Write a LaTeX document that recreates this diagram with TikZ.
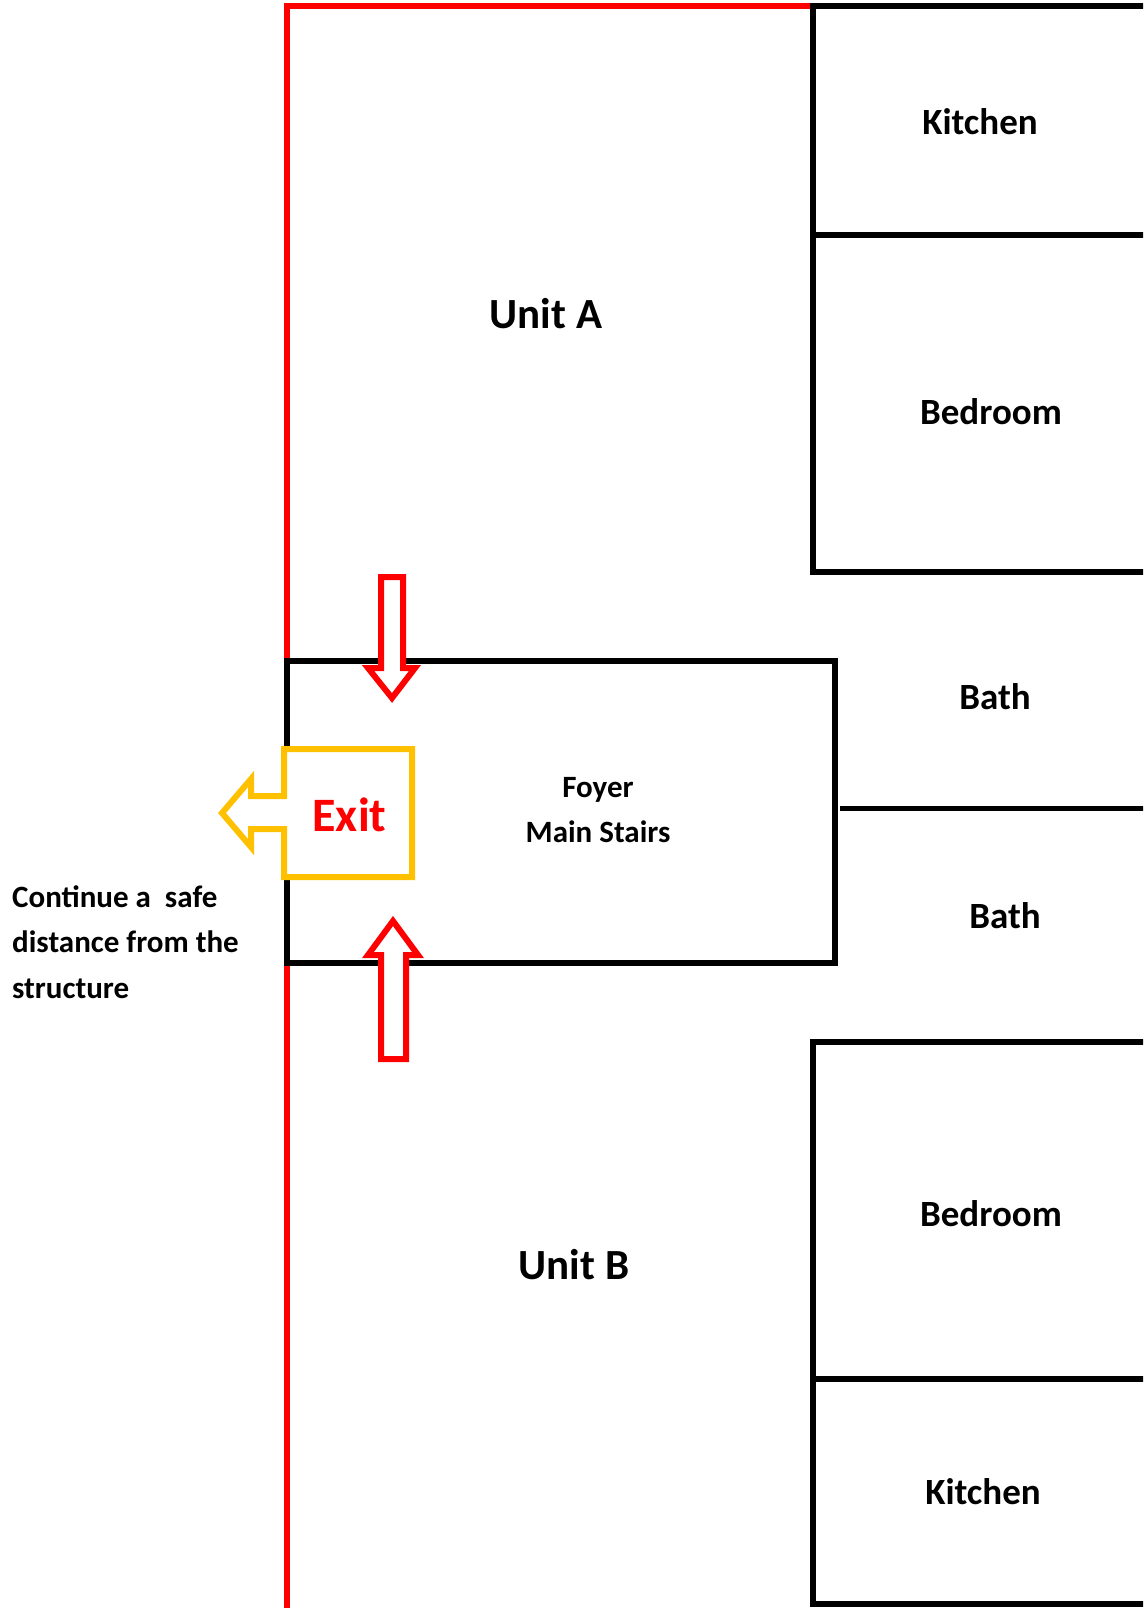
\documentclass[tikz,border=0pt]{standalone}
\usepackage{fontspec}
\setmainfont{Carlito}
\definecolor{planred}{HTML}{FF0000}
\definecolor{planyellow}{HTML}{FFC000}
\begin{document}
\begin{tikzpicture}[x=1pt,y=-1pt,line join=miter,font=\bfseries,
  wall/.style={line width=6pt},
  outerwall/.style={line width=6pt,planred},
  flow/.style={line width=6pt,planred,fill=white},
  exitbox/.style={line width=6pt,planyellow,fill=white},
  room/.style={anchor=base,inner sep=0pt,font=\fontsize{37}{44}\selectfont\bfseries},
  unit/.style={anchor=base,inner sep=0pt,font=\fontsize{43}{50}\selectfont\bfseries},
  small/.style={inner sep=0pt,font=\fontsize{31}{45.5}\selectfont\bfseries}]
\useasboundingbox (0,0) rectangle (1143,1608);
\clip (0,0) rectangle (1143,1608);
% outer wall of the building
\draw[outerwall] (813,6) -- (287,6) -- (287,661);
\draw[outerwall] (287,963) -- (287,1615);
% rooms of unit A
\draw[wall] (1150,6) -- (813,6) -- (813,572) -- (1150,572);
\draw[wall] (813,235) -- (1150,235);
% rooms of unit B
\draw[wall] (1150,1042) -- (813,1042) -- (813,1604) -- (1150,1604);
\draw[wall] (813,1379) -- (1150,1379);
% foyer and baths
\draw[wall] (287,661) rectangle (835,963);
\draw[line width=5pt] (840,808) -- (1150,808);
% way out
\draw[flow] (381,577) -- (403,577) -- (403,668) -- (415,668) -- (392,698) -- (368,668) -- (381,668) -- cycle;
\draw[flow] (381,1059) -- (406,1059) -- (406,955) -- (418,955) -- (393,921) -- (368,955) -- (381,955) -- cycle;
\draw[exitbox] (412,749) -- (284,749) -- (284,796) -- (251,796) -- (251,779) -- (222,813)
  -- (251,847) -- (251,829) -- (284,829) -- (284,877) -- (412,877) -- cycle;
\node[room] (kitchena) at (980,135) {Kitchen};
\node[room] (bedrooma) at (991,424) {Bedroom};
\node[unit] (unita) at (546,328) {Unit A};
\node[room] (batha) at (995,709) {Bath};
\node[room] (bathb) at (1005,928) {Bath};
\node[small,anchor=base] (foyer) at (598,797) {Foyer};
\node[small,anchor=base] (stairs) at (598,842) {Main Stairs};
\node[anchor=base,inner sep=0pt,planred,font=\fontsize{48}{54}\selectfont\bfseries] (exit) at (349.5,831) {Exit};
\node[small,anchor=base west,align=left] (away) at (12,998) {Continue a\ \ safe\\distance from the\\structure};
\node[room] (bedroomb) at (991,1226) {Bedroom};
\node[unit] (unitb) at (574,1279) {Unit B};
\node[room] (kitchenb) at (983,1504) {Kitchen};
\end{tikzpicture}
\end{document}
